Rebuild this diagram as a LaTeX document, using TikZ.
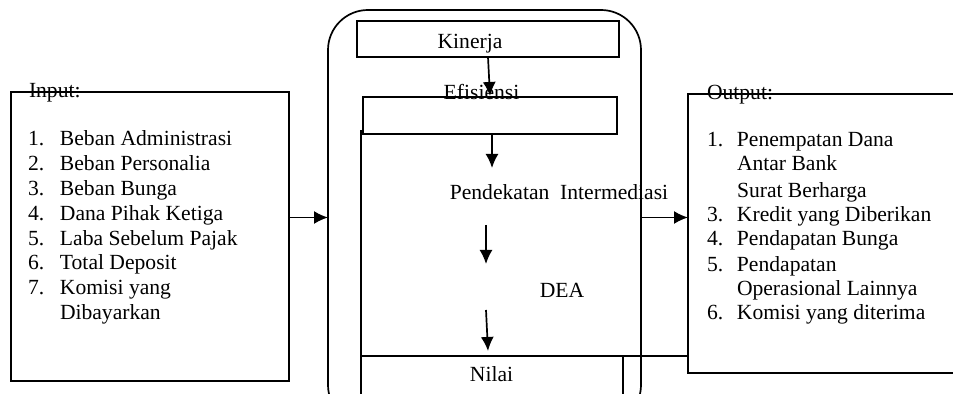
\documentclass[tikz,border=0pt]{standalone}
\usepackage{fontspec}
\setmainfont{Liberation Serif}
\usetikzlibrary{arrows.meta}
\begin{document}
\begin{tikzpicture}[x=0.5pt,y=-0.5pt,
  line width=0.85pt,
  box/.style={draw, inner sep=0pt, outer sep=0pt},
  lbl/.style={inner sep=0pt, outer sep=0pt, anchor=base, font=\fontsize{10.8}{12.4}\selectfont},
  lst/.style={inner sep=0pt, outer sep=0pt, anchor=base west, font=\fontsize{10.8}{12.4}\selectfont},
  arr/.style={-{Latex[length=7pt,width=6.5pt]}, line width=0.85pt}]
\useasboundingbox (0,0) rectangle (953,394);
\clip (0,0) rectangle (953,394);
% side boxes
\node[box, minimum width=139pt, minimum height=144.5pt] (in) at (150,236.5) {};
\node[box, minimum width=141pt, minimum height=139.5pt] (out) at (829,233.5) {};
% big rounded frame
\node[box, rounded corners=20pt, minimum width=156.5pt, minimum height=207.5pt] (rr) at (484.5,217.5) {};
% inner boxes
\node[box, minimum width=131pt, minimum height=18pt] (kin) at (488,39) {};
\node[box, minimum width=127pt, minimum height=18.5pt] (eff) at (490,115.5) {};
\node[box, minimum width=131pt, minimum height=37pt] (nil) at (492,393) {};
\coordinate (vtop) at (361,130);
\draw (vtop) -- (nil.south west);
% texts
\node[lbl] (kint) at (470,49) {Kinerja};
\node[lbl] (efft) at (481.5,100) {Efisiensi};
\node[lbl] (pend) at (559,200) {Pendekatan\ \ Intermediasi};
\node[lbl] (dea) at (562,298) {DEA};
\node[lbl] (nilt) at (491.5,381.5) {Nilai};
\node[lst] (inh) at (29,97.5) {Input:};
\node[lst] (outh) at (707,100) {Output:};
\node[lst] (inl) at (28,146) {\begin{tabular}[t]{@{}p{16pt}@{}l@{}}
1. & Beban Administrasi\\
2. & Beban Personalia\\
3. & Beban Bunga\\
4. & Dana Pihak Ketiga\\
5. & Laba Sebelum Pajak\\
6. & Total Deposit\\
7. & Komisi yang\\
   & Dibayarkan
\end{tabular}};
\node[lst] (outl) at (707,147) {\fontsize{10.8}{11.9}\selectfont\begin{tabular}[t]{@{}p{15pt}@{}l@{}}
1. & Penempatan Dana\\
   & Antar Bank\\[1.7pt]
   & Surat Berharga\\
3. & Kredit yang Diberikan\\
4. & Pendapatan Bunga\\[1.3pt]
5. & Pendapatan\\
   & Operasional Lainnya\\
6. & Komisi yang diterima
\end{tabular}};
% arrows
\coordinate (k1) at (490,96);
\draw[arr] (kin.south) -- (k1);
\coordinate (e2) at (492,168);
\draw[arr] (eff.south -| e2) -- (e2);
\coordinate (p1) at (486,225);
\coordinate (p2) at (486,264);
\draw[arr] (p1) -- (p2);
\coordinate (d1) at (486,310);
\coordinate (d2) at (488,351);
\draw[arr] (d1) -- (d2);
\draw[arr] (in.east |- rr.west) -- (rr.west);
\draw[arr] (rr.east) -- (rr.east -| out.west);
\draw (nil.north east) -- (nil.north east -| out.west);
\end{tikzpicture}
\end{document}
